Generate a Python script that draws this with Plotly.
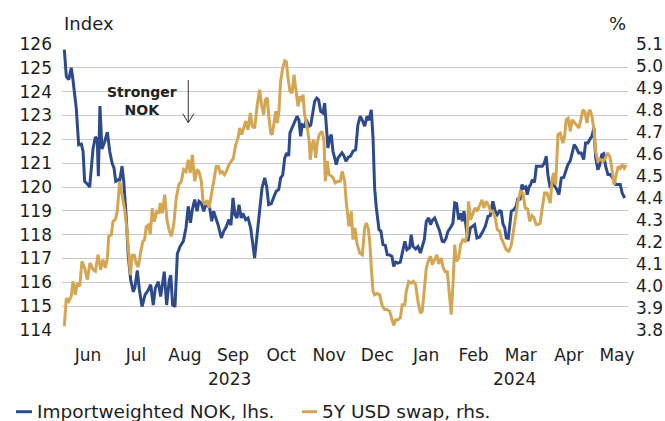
import pandas as pd
import plotly.graph_objects as go

# ---------------- data ----------------
START = pd.Timestamp("2023-06-01")

# Importweighted NOK (lhs): days after 2023-06-01 and index values
nok_days = [0, 1.3, 2.8, 4.4, 5.5, 7.6, 9.1, 10.8, 11.9, 12.9,
            15.0, 16.1, 18.2, 19.7, 20.9, 21.6, 22.6, 23.9, 25.6, 27.3,
            28.8, 30.3, 31.5, 32.6, 34.1, 35.1, 36.6, 37.7, 39.3, 40.6,
            42.1, 43.8, 44.8, 46.3, 47.6, 49.3, 51.2, 53.3, 54.8, 56.4,
            57.7, 59.6, 61.1, 62.4, 63.4, 64.9, 66.6, 67.5, 68.7, 70.2,
            71.7, 73.4, 75.5, 77.2, 78.6, 80.0, 81.2, 82.7, 84.2, 85.4,
            86.9, 88.4, 89.9, 92.2, 93.5, 94.7, 96.2, 97.5, 99.6, 101.1,
            102.5, 104.4, 105.7, 107.0, 108.2, 109.5, 110.8, 112.2, 113.3, 115.0,
            116.5, 118.2, 120.7, 122.4, 123.9, 125.4, 127.1, 128.4, 129.6, 131.3,
            133.0, 134.4, 136.0, 137.2, 138.5, 139.8, 141.0, 142.3, 143.1, 144.4,
            146.1, 147.6, 148.8, 149.9, 150.9, 152.3, 153.5, 155.0, 156.3, 157.5,
            158.8, 160.1, 161.3, 162.6, 164.1, 165.1, 166.1, 167.2, 168.3, 169.3,
            170.4, 171.5, 172.5, 173.6, 174.6, 176.1, 177.4, 178.6, 180.1, 181.4,
            183.1, 184.8, 186.2, 187.7, 189.0, 190.5, 192.0, 193.2, 194.7, 195.8,
            196.8, 197.9, 199.6, 200.8, 202.1, 203.6, 204.8, 206.3, 207.8, 208.9,
            210.2, 211.6, 213.1, 214.8, 216.0, 217.3, 219.0, 220.0, 221.1, 222.8,
            224.3, 225.8, 227.0, 228.3, 229.6, 231.1, 232.3, 233.4, 234.9, 236.3,
            238.1, 239.7, 240.8, 242.1, 243.3, 245.0, 246.5, 247.6, 248.8, 250.1,
            251.4, 252.4, 253.5, 254.5, 256.0, 257.5, 258.7, 260.2, 261.7, 263.4,
            265.5, 267.0, 268.7, 270.1, 271.8, 273.3, 274.6, 276.1, 277.1, 278.2,
            279.3, 280.3, 281.6, 282.6, 283.5, 285.2, 286.6, 287.7, 289.0, 290.2,
            291.5, 292.6, 293.6, 294.7, 295.8, 296.8, 298.2, 299.4, 301.3, 303.1,
            304.4, 305.7, 306.7, 308.2, 309.5, 311.0, 312.4, 313.7, 315.2, 316.7,
            318.0, 319.4, 320.9, 322.1, 323.4, 324.7, 326.2, 327.8, 329.4, 330.6,
            332.1, 333.2, 334.6, 335.9, 337.0, 338.4, 339.5, 340.8, 342.0, 343.3,
            344.8, 346.2, 347.9, 349.7, 351.1, 352.6, 353.8, 355.4]
nok = [125.76, 124.64, 124.5, 125.0, 124.5, 123.3, 121.77, 121.8, 121.5, 120.24,
       120.1, 120.0, 121.6, 122.1, 122.0, 120.45, 123.4, 121.6, 121.9, 122.3,
       121.5, 121.0, 120.8, 120.24, 120.3, 120.24, 120.87, 120.24, 118.7, 117.07,
       116.1, 115.6, 115.8, 116.5, 115.7, 114.98, 115.47, 115.68, 115.9, 115.05,
       115.75, 116.03, 115.4, 116.1, 116.45, 115.05, 116.1, 116.3, 115.05, 114.98,
       117.2, 117.5, 117.73, 118.3, 119.19, 118.5, 119.05, 119.47, 118.98, 119.4,
       119.33, 118.98, 119.3, 119.12, 118.56, 118.98, 118.7, 118.42, 117.86, 118.14,
       118.3, 118.63, 118.4, 119.54, 118.84, 118.7, 119.26, 118.7, 118.9, 118.63,
       118.7, 118.28, 117.02, 118.14, 119.26, 119.96, 120.38, 120.0, 119.26, 119.3,
       119.6, 119.82, 119.9, 120.38, 120.5, 121.22, 121.43, 121.3, 122.27, 122.48,
       122.76, 122.97, 122.8, 122.13, 122.61, 122.55, 122.82, 122.55, 122.6, 123.03,
       123.6, 123.73, 123.65, 123.17, 123.1, 123.52, 122.4, 121.64, 122.06, 122.2,
       121.5, 121.2, 120.94, 121.22, 121.3, 121.43, 121.3, 121.08, 121.25, 121.29,
       121.5, 121.57, 122.61, 122.97, 122.8, 122.55, 122.97, 122.8, 123.24, 122.06,
       119.96, 119.12, 118.21, 118.15, 117.58, 117.55, 117.16, 117.15, 117.09, 116.67,
       116.85, 116.81, 116.85, 117.37, 117.72, 117.37, 117.45, 118.0, 117.51, 117.4,
       117.5, 117.23, 117.5, 117.79, 118.56, 118.7, 118.42, 118.6, 118.7, 118.45,
       118.14, 117.72, 117.7, 117.85, 118.14, 118.3, 118.49, 119.33, 119.3, 118.63,
       118.9, 118.56, 118.98, 118.5, 117.72, 118.28, 118.35, 118.42, 117.86, 117.9,
       118.14, 118.35, 118.77, 118.8, 119.4, 118.98, 118.84, 119.0, 118.98, 118.45,
       118.3, 117.86, 117.85, 118.4, 118.98, 119.05, 119.2, 119.54, 119.45, 120.1,
       119.95, 120.0, 119.68, 120.0, 120.1, 120.31, 120.2, 120.87, 120.87, 120.87,
       121.0, 121.29, 120.5, 119.96, 120.2, 120.05, 119.89, 119.68, 120.38, 120.4,
       120.66, 120.94, 121.1, 121.5, 121.78, 121.65, 121.43, 121.43, 121.15, 121.85,
       121.85, 121.99, 122.13, 122.48, 121.22, 120.73, 120.9, 121.35, 121.4, 120.87,
       120.52, 120.52, 120.38, 120.1, 120.1, 120.1, 119.75, 119.54]

# 5Y USD swap (rhs): days after 2023-06-01 and rate in %
swap_days = [0, 1.3, 2.8, 4.4, 5.5, 7.0, 8.2, 9.8, 11.2, 12.9,
             14.6, 16.3, 18.2, 19.7, 21.4, 23.1, 24.5, 26.0, 27.3, 28.2,
             29.8, 30.9, 32.3, 33.6, 35.1, 36.8, 38.3, 39.8, 40.7, 41.9,
             43.1, 44.4, 45.7, 46.9, 48.5, 49.7, 50.9, 52.0, 53.3, 54.5,
             55.8, 57.1, 58.6, 59.9, 60.9, 62.1, 63.7, 65.1, 66.4, 67.9,
             69.4, 71.0, 72.7, 74.2, 75.7, 77.2, 78.6, 79.9, 81.2, 82.7,
             84.2, 85.4, 86.9, 88.0, 89.2, 90.5, 91.8, 93.2, 94.7, 96.4,
             97.7, 98.9, 100.2, 101.5, 102.7, 104.4, 105.9, 107.2, 108.7, 110.2,
             111.2, 112.5, 113.8, 115.0, 116.5, 118.0, 119.2, 120.7, 122.4, 123.9,
             125.1, 126.4, 127.5, 128.7, 129.6, 130.9, 131.9, 133.0, 134.1, 135.1,
             136.1, 137.2, 138.5, 139.8, 140.8, 141.9, 143.1, 144.4, 145.7, 146.7,
             148.2, 149.3, 150.3, 151.4, 152.4, 153.9, 155.2, 156.0, 157.1, 158.2,
             159.4, 160.4, 161.7, 163.4, 164.7, 165.5, 166.8, 167.9, 169.3, 170.6,
             171.8, 173.4, 175.0, 176.3, 177.8, 178.8, 180.5, 182.0, 183.1, 184.3,
             185.6, 187.3, 189.0, 190.5, 191.5, 192.8, 193.7, 194.7, 195.8, 196.8,
             198.3, 200.0, 201.7, 203.2, 204.6, 206.3, 207.4, 208.9, 210.2, 211.6,
             213.1, 214.3, 215.9, 216.9, 218.4, 219.9, 221.3, 222.8, 224.3, 225.8,
             227.0, 228.1, 229.6, 231.1, 232.3, 233.4, 234.9, 236.3, 237.4, 239.1,
             240.3, 241.6, 242.9, 244.4, 245.4, 246.5, 247.6, 248.6, 250.1, 251.4,
             252.8, 254.3, 255.4, 256.4, 257.7, 259.2, 260.6, 261.9, 263.4, 264.9,
             266.1, 267.6, 269.1, 270.4, 271.8, 273.3, 274.6, 276.1, 277.1, 278.8,
             280.3, 281.8, 283.3, 284.5, 286.0, 287.7, 289.4, 290.9, 292.3, 293.9,
             295.1, 296.6, 297.8, 299.3, 300.4, 301.8, 303.1, 304.6, 306.1, 307.4,
             308.2, 309.5, 310.5, 311.6, 313.1, 314.5, 316.2, 317.3, 318.3, 319.6,
             320.9, 322.1, 323.7, 325.1, 326.4, 327.8, 328.9, 330.2, 331.5, 332.5,
             333.5, 334.8, 335.9, 337.0, 338.4, 339.9, 341.6, 343.1, 344.3, 345.9,
             347.1, 348.6, 350.0, 351.3, 352.6, 353.8, 355.1, 356.4]
swap = [3.817, 3.945, 3.930, 3.953, 4.021, 3.960, 4.014, 3.999, 4.112, 4.082,
        4.029, 4.105, 4.074, 4.067, 4.142, 4.074, 4.120, 4.082, 4.127, 4.226,
        4.233, 4.294, 4.301, 4.339, 4.476, 4.415, 4.347, 4.25, 4.15, 4.05,
        4.14, 4.14, 4.10, 4.086, 4.156, 4.201, 4.21, 4.27, 4.277, 4.235,
        4.353, 4.292, 4.338, 4.33, 4.377, 4.33, 4.415, 4.301, 4.256, 4.226,
        4.279, 4.400, 4.461, 4.476, 4.529, 4.52, 4.574, 4.514, 4.597, 4.476,
        4.529, 4.52, 4.476, 4.385, 4.370, 4.39, 4.355, 4.415, 4.48, 4.544,
        4.544, 4.514, 4.52, 4.506, 4.52, 4.551, 4.567, 4.58, 4.642, 4.673,
        4.718, 4.688, 4.718, 4.749, 4.71, 4.786, 4.726, 4.718, 4.824, 4.892,
        4.824, 4.779, 4.847, 4.855, 4.779, 4.695, 4.688, 4.741, 4.794, 4.741,
        4.794, 4.930, 4.991, 5.024, 5.02, 4.945, 4.885, 4.877, 4.960, 4.9,
        4.817, 4.862, 4.84, 4.870, 4.779, 4.726, 4.665, 4.574, 4.642, 4.665,
        4.582, 4.65, 4.688, 4.703, 4.66, 4.476, 4.567, 4.506, 4.50, 4.49,
        4.468, 4.476, 4.476, 4.521, 4.476, 4.385, 4.271, 4.339, 4.211, 4.264,
        4.195, 4.150, 4.142, 4.264, 4.286, 4.26, 4.203, 4.082, 3.976, 3.960,
        3.966, 3.960, 3.908, 3.893, 3.893, 3.885, 3.855, 3.821, 3.847, 3.847,
        3.855, 3.915, 3.915, 3.976, 4.021, 4.014, 4.021, 4.006, 3.930, 3.877,
        3.885, 3.976, 4.082, 4.120, 4.135, 4.097, 4.120, 4.142, 4.10, 4.127,
        4.082, 4.065, 4.065, 3.945, 3.870, 4.006, 4.188, 4.112, 4.127, 4.188,
        4.21, 4.203, 4.23, 4.385, 4.301, 4.33, 4.355, 4.34, 4.370, 4.392,
        4.355, 4.385, 4.365, 4.339, 4.339, 4.309, 4.256, 4.25, 4.218, 4.188,
        4.165, 4.158, 4.18, 4.233, 4.301, 4.385, 4.430, 4.42, 4.355, 4.35,
        4.294, 4.32, 4.31, 4.279, 4.279, 4.285, 4.355, 4.423, 4.423, 4.40,
        4.377, 4.491, 4.514, 4.461, 4.688, 4.695, 4.650, 4.68, 4.756, 4.762,
        4.703, 4.756, 4.74, 4.726, 4.718, 4.764, 4.801, 4.79, 4.741, 4.79,
        4.801, 4.764, 4.710, 4.612, 4.567, 4.575, 4.567, 4.58, 4.605, 4.59,
        4.544, 4.461, 4.506, 4.544, 4.535, 4.551, 4.535, 4.551]

month_labels = ["Jun", "Jul", "Aug", "Sep", "Oct", "Nov", "Dec",
                "Jan", "Feb", "Mar", "Apr", "May"]
year_labels = ["2023", "2024"]
series_names = ["Importweighted NOK, lhs.", "5Y USD swap, rhs."]

# ---------------- build ----------------
nok_dates = START + pd.to_timedelta(nok_days, unit="D")
swap_dates = START + pd.to_timedelta(swap_days, unit="D")

month_starts = pd.date_range("2023-06-01", periods=13, freq="MS")
month_mids = [month_starts[i] + (month_starts[i + 1] - month_starts[i]) / 2
              for i in range(12)]

BLUE = "#2D4A8C"
GOLD = "#D4A654"
TXT = "#1e1e1e"
FONT = "DejaVu Sans"

fig = go.Figure()
fig.add_trace(go.Scatter(x=nok_dates, y=nok, mode="lines", name=series_names[0],
                         line=dict(color=BLUE, width=3), yaxis="y"))
fig.add_trace(go.Scatter(x=swap_dates, y=swap, mode="lines", name=series_names[1],
                         line=dict(color=GOLD, width=3), yaxis="y2"))

fig.update_layout(
    width=665, height=421,
    margin=dict(l=62, r=37, t=44, b=91, autoexpand=False),
    paper_bgcolor="white", plot_bgcolor="white",
    showlegend=False,
    font=dict(family=FONT, color=TXT, size=17),
    xaxis=dict(type="date", automargin=False,
               range=[pd.Timestamp("2023-05-30 13:00"), pd.Timestamp("2024-05-23 12:00")],
               tickvals=month_mids, ticktext=month_labels,
               showgrid=False, zeroline=False, showline=False, ticks="",
               tickfont=dict(size=17), ticklabelstandoff=13),
    yaxis=dict(range=[114, 126], tick0=114, dtick=1, automargin=False,
               showgrid=True, gridcolor="#c8c8c8", gridwidth=1.2,
               zeroline=False, showline=False, ticks="",
               tickfont=dict(size=17), ticklabelstandoff=9),
    yaxis2=dict(range=[3.8, 5.1], tick0=3.8, dtick=0.1, tickformat=".1f",
                overlaying="y", side="right", automargin=False,
                showgrid=False, zeroline=False, showline=False, ticks="",
                tickfont=dict(size=17), ticklabelstandoff=7),
)

ann = []
ann.append(dict(text="Index", x=0, y=1.0734, xref="paper", yref="paper",
                xanchor="left", yanchor="middle", showarrow=False, font=dict(size=18)))
ann.append(dict(text="%", x=1, y=1.0734, xref="paper", yref="paper",
                xanchor="right", yanchor="middle", showarrow=False, font=dict(size=18)))
for lbl, xp in zip(year_labels, [0.2968, 0.7986]):
    ann.append(dict(text=lbl, x=xp, y=-0.1713, xref="paper", yref="paper",
                    xanchor="center", yanchor="middle", showarrow=False,
                    font=dict(size=17)))
ann.append(dict(text="<b>Stronger</b><br><b>NOK</b>", x=0.1413, y=0.8007,
                xref="paper", yref="paper", xanchor="center", yanchor="middle",
                showarrow=False, font=dict(size=14, color="#222")))
# legend texts
ann.append(dict(text=series_names[0], x=-0.0477, y=-0.2857, xref="paper", yref="paper",
                xanchor="left", yanchor="middle", showarrow=False, font=dict(size=18.5)))
ann.append(dict(text=series_names[1], x=0.4558, y=-0.2857, xref="paper", yref="paper",
                xanchor="left", yanchor="middle", showarrow=False, font=dict(size=18.5)))
fig.update_layout(annotations=ann)

shapes = []
# arrow "Stronger NOK"
ax = 0.2231
shapes.append(dict(type="line", xref="paper", yref="paper", x0=ax, x1=ax, y0=0.874, y1=0.7248,
                   line=dict(color="#333", width=1)))
shapes.append(dict(type="line", xref="paper", yref="paper", x0=ax - 0.0097, x1=ax, y0=0.7563, y1=0.7248,
                   line=dict(color="#333", width=1)))
shapes.append(dict(type="line", xref="paper", yref="paper", x0=ax + 0.0097, x1=ax, y0=0.7563, y1=0.7248,
                   line=dict(color="#333", width=1)))
# legend line samples
shapes.append(dict(type="line", xref="paper", yref="paper", x0=-0.0813, x1=-0.053, y0=-0.2857, y1=-0.2857,
                   line=dict(color=BLUE, width=3)))
shapes.append(dict(type="line", xref="paper", yref="paper", x0=0.424, x1=0.4505, y0=-0.2857, y1=-0.2857,
                   line=dict(color=GOLD, width=3)))
fig.update_layout(shapes=shapes)

fig.write_html("out.html", config={"displayModeBar": False},
               post_script="document.body.style.margin='0';")
